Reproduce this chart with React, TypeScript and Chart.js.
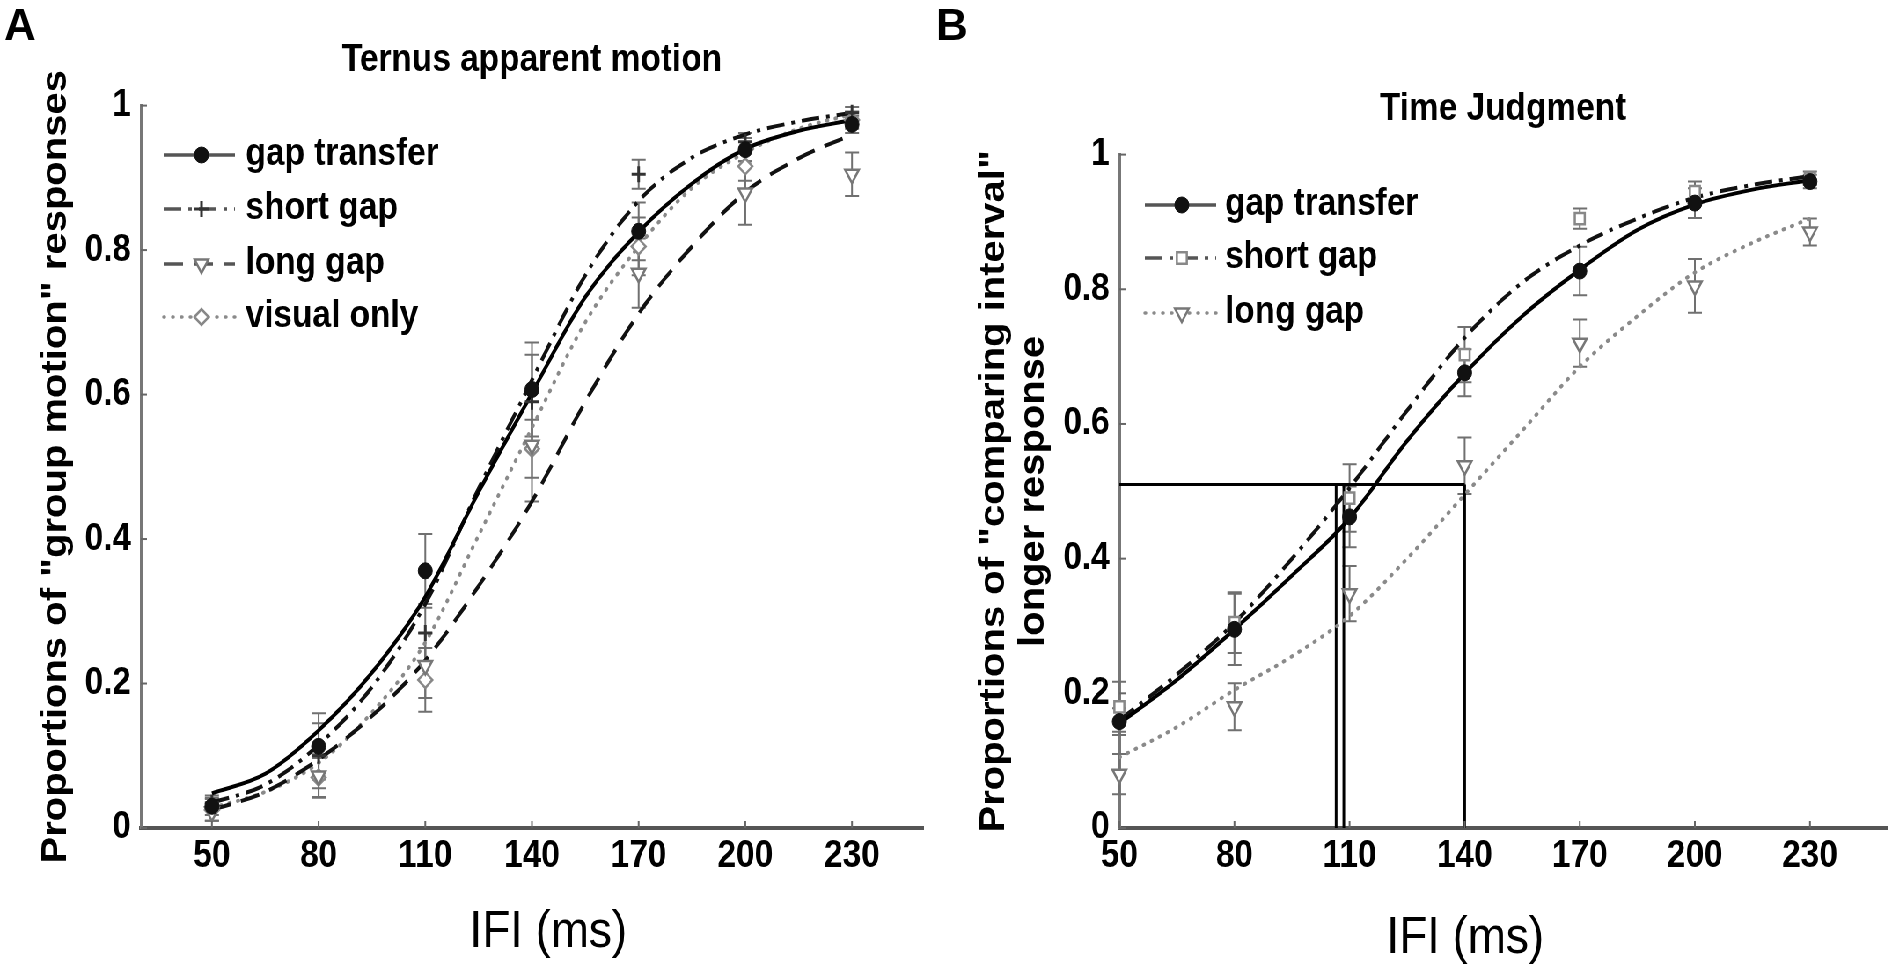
import { useEffect, useRef } from "react"
import { Chart, registerables } from "chart.js"
import { drawPoint } from "chart.js/helpers"

Chart.register(...registerables)

const FONT = "'Liberation Sans', Arial, Helvetica, sans-serif"
// the original figure is horizontally compressed, so both panels are drawn wider and squeezed
const SQUISH = 0.88
const HEIGHT = 972

// IFI values (ms) where responses were measured
const ifiPoints = [50, 80, 110, 140, 170, 200, 230]
const xTickValues = [50, 80, 110, 140, 170, 200, 230]
const yTickValues = [0, 0.2, 0.4, 0.6, 0.8, 1]
const fitX = [50, 65, 80, 95, 110, 125, 140, 155, 170, 185, 200, 215, 230]
const xAxisTitle = "IFI (ms)"

// Panel A: Ternus apparent motion
const ternusNames = ["gap transfer", "short gap", "long gap", "visual only"]
const ternusGapTransferMean = [0.03, 0.113, 0.356, 0.607, 0.826, 0.939, 0.974]
const ternusGapTransferErr = [0.012, 0.046, 0.051, 0.065, 0.04, 0.016, 0.012]
const ternusShortGapMean = [0.035, 0.1, 0.27, 0.59, 0.905, 0.95, 0.99]
const ternusShortGapErr = [0.01, 0.045, 0.04, 0.065, 0.02, 0.012, 0.008]
const ternusLongGapMean = [0.022, 0.072, 0.225, 0.53, 0.768, 0.879, 0.905]
const ternusLongGapErr = [0.012, 0.03, 0.045, 0.078, 0.048, 0.044, 0.03]
const ternusVisualMean = [0.025, 0.07, 0.205, 0.525, 0.805, 0.916, 0.98]
const ternusVisualErr = [0.015, 0.027, 0.044, 0.04, 0.04, 0.02, 0.012]

const ternusGapTransferFit = [0.048, 0.075, 0.135, 0.215, 0.32, 0.465, 0.602, 0.735, 0.825, 0.892, 0.94, 0.965, 0.98]
const ternusShortGapFit = [0.035, 0.06, 0.115, 0.195, 0.31, 0.47, 0.62, 0.765, 0.868, 0.928, 0.96, 0.978, 0.99]
const ternusLongGapFit = [0.025, 0.05, 0.095, 0.155, 0.232, 0.335, 0.452, 0.59, 0.712, 0.805, 0.88, 0.927, 0.96]
const ternusVisualFit = [0.028, 0.05, 0.09, 0.16, 0.257, 0.405, 0.554, 0.7, 0.805, 0.886, 0.935, 0.968, 0.988]

// Panel B: Time judgment
const timeNames = ["gap transfer", "short gap", "long gap"]
const timeGapTransferMean = [0.158, 0.295, 0.462, 0.676, 0.827, 0.928, 0.96]
const timeGapTransferErr = [0.02, 0.053, 0.045, 0.035, 0.036, 0.022, 0.01]
const timeShortGapMean = [0.18, 0.305, 0.49, 0.703, 0.905, 0.945, 0.965]
const timeShortGapErr = [0.037, 0.045, 0.05, 0.041, 0.015, 0.015, 0.01]
const timeLongGapMean = [0.08, 0.18, 0.348, 0.538, 0.72, 0.805, 0.885]
const timeLongGapErr = [0.03, 0.035, 0.041, 0.042, 0.035, 0.04, 0.02]

const timeGapTransferFit = [0.155, 0.22, 0.295, 0.375, 0.46, 0.575, 0.675, 0.76, 0.829, 0.888, 0.926, 0.948, 0.962]
const timeShortGapFit = [0.16, 0.228, 0.305, 0.4, 0.505, 0.62, 0.728, 0.81, 0.865, 0.905, 0.936, 0.955, 0.968]
const timeLongGapFit = [0.105, 0.15, 0.205, 0.255, 0.315, 0.4, 0.495, 0.59, 0.685, 0.76, 0.825, 0.869, 0.905]

// 50% thresholds marked in panel B
const pseLevel = 0.51
const pseX = [106.5, 108.5, 140]

type Look = {
  line: string
  dash: number[]
  cap: CanvasLineCap
  style: string
  rot: number
  r: number
  fill: string
  stroke: string
  bw: number
}

const SOLID: Partial<Look> = { line: "#000", dash: [], cap: "butt" }
const DASHDOT: Partial<Look> = { line: "#111", dash: [20, 8, 4, 8], cap: "butt" }
const DASHED: Partial<Look> = { line: "#111", dash: [22, 12], cap: "butt" }
const DOTTED: Partial<Look> = { line: "#8a8a8a", dash: [1, 9], cap: "round" }

const CIRCLE: Partial<Look> = { style: "circle", rot: 0, r: 8, fill: "#111", stroke: "#111", bw: 1 }
const CROSS: Partial<Look> = { style: "cross", rot: 0, r: 8, fill: "#333", stroke: "#333", bw: 3 }
const TRI_DOWN: Partial<Look> = { style: "triangle", rot: 180, r: 9, fill: "#fff", stroke: "#777", bw: 2.5 }
const DIAMOND: Partial<Look> = { style: "rectRot", rot: 0, r: 8, fill: "#fff", stroke: "#888", bw: 2.5 }
const SQUARE: Partial<Look> = { style: "rect", rot: 0, r: 8, fill: "#fff", stroke: "#888", bw: 2.5 }

type LegendBox = { rows: number[]; lineX: [number, number]; markerX: number; textX: number }
type XTitle = { cx: number; baseline: number }

function points(xs: number[], ys: number[]) {
  return xs.map((x, i) => ({ x, y: ys[i] }))
}

function makeExtras(names: string[], looks: Look[], box: LegendBox, xTitle: XTitle) {
  return {
    id: "extras",
    beforeDatasetsDraw(chart: any) {
      const { ctx, scales } = chart
      ctx.save()
      ctx.strokeStyle = "#707070"
      ctx.lineWidth = 2
      chart.data.datasets.forEach((ds: any) => {
        if (!ds.errs) return
        ds.data.forEach((p: any, i: number) => {
          const e = ds.errs[i]
          const px = scales.x.getPixelForValue(p.x)
          const top = scales.y.getPixelForValue(p.y + e)
          const bot = scales.y.getPixelForValue(p.y - e)
          ctx.beginPath()
          ctx.moveTo(px, top)
          ctx.lineTo(px, bot)
          ctx.moveTo(px - 8, top)
          ctx.lineTo(px + 8, top)
          ctx.moveTo(px - 8, bot)
          ctx.lineTo(px + 8, bot)
          ctx.stroke()
        })
      })
      ctx.restore()
    },
    afterDraw(chart: any) {
      const { ctx, scales, chartArea } = chart
      ctx.save()
      // MATLAB style ticks pointing into the plot
      ctx.strokeStyle = "#666"
      ctx.lineWidth = 2
      xTickValues.forEach((v) => {
        const px = scales.x.getPixelForValue(v)
        ctx.beginPath()
        ctx.moveTo(px, chartArea.bottom)
        ctx.lineTo(px, chartArea.bottom - 7)
        ctx.stroke()
      })
      yTickValues.forEach((v) => {
        const py = scales.y.getPixelForValue(v)
        ctx.beginPath()
        ctx.moveTo(chartArea.left, py)
        ctx.lineTo(chartArea.left + 7, py)
        ctx.stroke()
      })
      // x axis title, set a little off the axis centre as in the figure
      ctx.fillStyle = "#000"
      ctx.font = `52px ${FONT}`
      ctx.textAlign = "center"
      ctx.textBaseline = "alphabetic"
      ctx.fillText(xAxisTitle, xTitle.cx, xTitle.baseline)
      // legend
      names.forEach((name, i) => {
        const lk = looks[i]
        const y = box.rows[i]
        ctx.setLineDash(lk.dash)
        ctx.lineCap = lk.cap
        ctx.strokeStyle = lk.line === "#8a8a8a" ? lk.line : "#555"
        ctx.lineWidth = 3.5
        ctx.beginPath()
        ctx.moveTo(box.lineX[0], y)
        ctx.lineTo(box.lineX[1], y)
        ctx.stroke()
        ctx.setLineDash([])
        ctx.lineCap = "butt"
        ctx.fillStyle = lk.fill
        ctx.strokeStyle = lk.stroke
        ctx.lineWidth = lk.bw
        drawPoint(ctx, { pointStyle: lk.style as any, rotation: lk.rot, radius: lk.r, borderWidth: lk.bw }, box.markerX, y)
        ctx.fillStyle = "#000"
        ctx.font = `bold 38px ${FONT}`
        ctx.textAlign = "left"
        ctx.textBaseline = "middle"
        ctx.fillText(name, box.textX, y)
      })
      ctx.restore()
    },
  }
}

function seriesDatasets(name: string, look: Look, mean: number[], err: number[], fit: number[]) {
  const marks = {
    label: name,
    data: points(ifiPoints, mean),
    errs: err,
    showLine: false,
    clip: false,
    pointStyle: look.style,
    pointRotation: look.rot,
    pointRadius: look.r,
    pointBackgroundColor: look.fill,
    pointBorderColor: look.stroke,
    pointBorderWidth: look.bw,
    order: 0,
  }
  const curve = {
    label: name + " fit",
    data: points(fitX, fit),
    borderColor: look.line,
    borderWidth: 4,
    borderDash: look.dash,
    borderCapStyle: look.cap,
    cubicInterpolationMode: "monotone",
    pointRadius: 0,
    fill: false,
    order: 1,
  }
  return [marks, curve]
}

type AxisLayout = {
  xMin: number
  yAxisWidth: number
  yTitle: string | string[]
  yTitlePad: number
  title: string
  titlePad: { top: number; bottom: number }
  rightPad: number
}

function buildConfig(datasets: any[], lay: AxisLayout, extras: any) {
  const tickFont = { family: FONT, size: 38, weight: "bold" as const }
  return {
    type: "line" as const,
    data: { datasets },
    options: {
      animation: false as const,
      responsive: false,
      devicePixelRatio: 1,
      layout: { padding: { left: 0, right: lay.rightPad, top: 0, bottom: 0 } },
      plugins: {
        legend: { display: false },
        tooltip: { enabled: false },
        title: {
          display: true,
          text: lay.title,
          fullSize: false,
          color: "#000",
          font: { family: FONT, size: 38, weight: "bold" as const, lineHeight: 1.2 },
          padding: lay.titlePad,
        },
      },
      scales: {
        x: {
          type: "linear" as const,
          min: lay.xMin,
          max: 250,
          afterBuildTicks: (s: any) => {
            s.ticks = xTickValues.map((value) => ({ value }))
          },
          afterFit: (s: any) => {
            s.height = HEIGHT - 828
          },
          ticks: { color: "#000", font: tickFont, padding: 6, maxRotation: 0, autoSkip: false },
          grid: { drawOnChartArea: false, drawTicks: false },
          border: { display: true, color: "#555", width: 4 },
          title: { display: false, text: xAxisTitle },
        },
        y: {
          type: "linear" as const,
          min: 0,
          max: 1,
          afterBuildTicks: (s: any) => {
            s.ticks = yTickValues.map((value) => ({ value }))
          },
          afterFit: (s: any) => {
            s.width = lay.yAxisWidth
          },
          ticks: {
            color: "#000",
            font: tickFont,
            padding: 11,
            callback: (v: any) => String(Math.round(Number(v) * 10) / 10),
          },
          grid: { drawOnChartArea: false, drawTicks: false },
          border: { display: true, color: "#777", width: 3 },
          title: {
            display: true,
            text: lay.yTitle,
            color: "#000",
            font: { family: FONT, size: 40, weight: "bold" as const, lineHeight: 1.13 },
            padding: { top: lay.yTitlePad, bottom: 0 },
          },
        },
      },
    },
    plugins: [extras],
  }
}

function ternusConfig() {
  const looks = [
    { ...SOLID, ...CIRCLE },
    { ...DASHDOT, ...CROSS },
    { ...DASHED, ...TRI_DOWN },
    { ...DOTTED, ...DIAMOND },
  ] as Look[]
  const means = [ternusGapTransferMean, ternusShortGapMean, ternusLongGapMean, ternusVisualMean]
  const errs = [ternusGapTransferErr, ternusShortGapErr, ternusLongGapErr, ternusVisualErr]
  const fits = [ternusGapTransferFit, ternusShortGapFit, ternusLongGapFit, ternusVisualFit]
  const datasets = ternusNames.flatMap((n, i) => seriesDatasets(n, looks[i], means[i], errs[i], fits[i]))
  const extras = makeExtras(
    ternusNames,
    looks,
    { rows: [155, 209, 264, 317], lineX: [186, 267], markerX: 229, textX: 279 },
    { cx: 623, baseline: 947 },
  )
  return buildConfig(
    datasets,
    {
      xMin: 30,
      yAxisWidth: 160,
      yTitle: 'Proportions of "group motion" responses',
      yTitlePad: 41,
      title: "Ternus apparent motion",
      titlePad: { top: 38, bottom: 22 },
      rightPad: 41,
    },
    extras,
  )
}

function timeConfig() {
  const looks = [
    { ...SOLID, ...CIRCLE },
    { ...DASHDOT, ...SQUARE },
    { ...DOTTED, ...TRI_DOWN },
  ] as Look[]
  const means = [timeGapTransferMean, timeShortGapMean, timeLongGapMean]
  const errs = [timeGapTransferErr, timeShortGapErr, timeLongGapErr]
  const fits = [timeGapTransferFit, timeShortGapFit, timeLongGapFit]
  const datasets: any[] = timeNames.flatMap((n, i) => seriesDatasets(n, looks[i], means[i], errs[i], fits[i]))
  const refLine = { borderColor: "#000", borderWidth: 3, pointRadius: 0, fill: false, order: 2 }
  datasets.push({ ...refLine, label: "threshold", data: [{ x: 50, y: pseLevel }, { x: Math.max(...pseX), y: pseLevel }] })
  pseX.forEach((x) => {
    datasets.push({ ...refLine, label: "pse " + x, data: [{ x, y: 0 }, { x, y: pseLevel }] })
  })
  const extras = makeExtras(
    timeNames,
    looks,
    { rows: [205, 258, 313], lineX: [211, 292], markerX: 253, textX: 302 },
    { cx: 575, baseline: 953 },
  )
  return buildConfig(
    datasets,
    {
      xMin: 50,
      yAxisWidth: 182,
      yTitle: ['Proportions of "comparing interval"', "longer response"],
      yTitlePad: 17,
      title: "Time Judgment",
      titlePad: { top: 87, bottom: 22 },
      rightPad: 14,
    },
    extras,
  )
}

function Panel({ makeConfig, left, width }: { makeConfig: () => any; left: number; width: number }) {
  const canvasRef = useRef<HTMLCanvasElement>(null)
  useEffect(() => {
    if (!canvasRef.current) return
    const chart = new Chart(canvasRef.current, makeConfig())
    return () => chart.destroy()
  }, [makeConfig])
  return (
    <canvas
      ref={canvasRef}
      width={width}
      height={HEIGHT}
      style={{ position: "absolute", left, top: 0, width, height: HEIGHT }}
    />
  )
}

const labelStyle = {
  position: "fixed" as const,
  top: 3,
  font: `bold 44px ${FONT}`,
  lineHeight: 1,
  color: "#000",
}

export default function App() {
  const natW = Math.round(1899 / SQUISH)
  return (
    <div style={{ position: "fixed", left: 0, top: 0, width: 1899, height: HEIGHT, background: "#fff", overflow: "hidden" }}>
      <div
        style={{
          position: "absolute",
          left: 0,
          top: 0,
          width: natW,
          height: HEIGHT,
          transform: `scaleX(${SQUISH})`,
          transformOrigin: "0 0",
        }}
      >
        <Panel makeConfig={ternusConfig} left={0} width={1090} />
        <Panel makeConfig={timeConfig} left={1090} width={natW - 1090} />
      </div>
      <div style={{ ...labelStyle, left: 4 }}>A</div>
      <div style={{ ...labelStyle, left: 936 }}>B</div>
    </div>
  )
}
